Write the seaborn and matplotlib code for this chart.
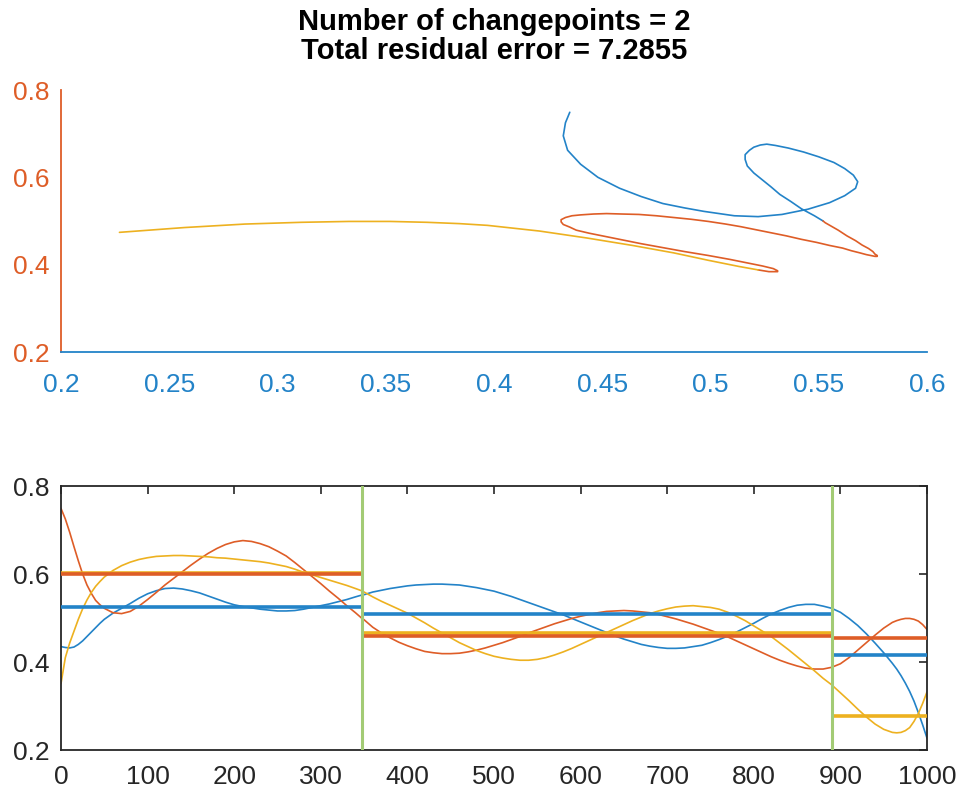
import numpy as np
import pandas as pd
import matplotlib
matplotlib.use("Agg")
import matplotlib.pyplot as plt
import seaborn as sns

# sample index
t = [0, 5, 10, 15, 20, 25, 30, 35, 40, 45,
     50, 60, 70, 80, 90, 100, 110, 120, 130, 140, 150, 160, 170, 180, 190, 200,
     210, 220, 230, 240, 250, 260, 270, 280, 290, 300, 310, 320, 330, 340, 347,
     350, 360, 370, 380, 390, 400, 410, 420, 430, 440, 450, 460, 470, 480, 490,
     500, 510, 520, 530, 540, 550, 560, 570, 580, 590, 600, 610, 620, 630, 640,
     650, 660, 670, 680, 690, 700, 710, 720, 730, 740, 750, 760, 770, 780, 790,
     800, 810, 820, 830, 840, 850, 860, 870, 880, 890, 900, 910, 920, 930, 940,
     950, 960, 965, 970, 975, 980, 985, 990, 995, 1000]

sig_blue = [0.435, 0.433, 0.432, 0.434, 0.440, 0.448, 0.458, 0.468, 0.478, 0.488,
            0.497, 0.511, 0.522, 0.533, 0.545, 0.555, 0.562, 0.567, 0.568, 0.566, 0.562,
            0.557, 0.550, 0.543, 0.536, 0.530, 0.526, 0.523, 0.520, 0.518, 0.516, 0.516,
            0.517, 0.520, 0.524, 0.528, 0.532, 0.537, 0.542, 0.548, 0.552,
            0.553, 0.559, 0.563, 0.567, 0.570, 0.573, 0.575, 0.576, 0.577, 0.577, 0.576,
            0.575, 0.572, 0.569, 0.565, 0.561, 0.555, 0.549, 0.542, 0.535, 0.528, 0.521,
            0.514, 0.507, 0.499, 0.491, 0.483, 0.475, 0.467, 0.459, 0.452, 0.446, 0.440,
            0.436, 0.433, 0.431, 0.431, 0.432, 0.435, 0.438, 0.444, 0.451, 0.459, 0.468,
            0.478, 0.488, 0.499, 0.509, 0.517, 0.524, 0.529, 0.531, 0.531, 0.527, 0.522,
            0.513, 0.499, 0.483, 0.464, 0.443, 0.421, 0.397, 0.384, 0.369, 0.352, 0.333,
            0.311, 0.285, 0.257, 0.227]

sig_orange = [0.749, 0.725, 0.695, 0.662, 0.630, 0.600, 0.575, 0.556, 0.540, 0.530,
              0.522, 0.512, 0.510, 0.515, 0.527, 0.542, 0.558, 0.575, 0.590, 0.605, 0.620,
              0.634, 0.647, 0.658, 0.667, 0.673, 0.676, 0.674, 0.669, 0.662, 0.652, 0.641,
              0.626, 0.610, 0.594, 0.578, 0.561, 0.545, 0.528, 0.512, 0.500,
              0.496, 0.479, 0.466, 0.455, 0.445, 0.437, 0.430, 0.424, 0.421, 0.419, 0.419,
              0.420, 0.423, 0.427, 0.432, 0.438, 0.444, 0.451, 0.458, 0.466, 0.473, 0.480,
              0.487, 0.493, 0.499, 0.504, 0.508, 0.512, 0.515, 0.516, 0.517, 0.516, 0.514,
              0.512, 0.508, 0.503, 0.498, 0.492, 0.486, 0.479, 0.472, 0.465, 0.457, 0.448,
              0.439, 0.430, 0.421, 0.412, 0.404, 0.397, 0.391, 0.386, 0.384, 0.384, 0.388,
              0.396, 0.410, 0.427, 0.444, 0.461, 0.477, 0.490, 0.494, 0.497, 0.499, 0.499,
              0.497, 0.493, 0.485, 0.474]

sig_yellow = [0.351, 0.410, 0.443, 0.470, 0.497, 0.521, 0.541, 0.558, 0.572, 0.583,
              0.593, 0.608, 0.619, 0.627, 0.633, 0.637, 0.640, 0.641, 0.642, 0.642, 0.641,
              0.640, 0.639, 0.637, 0.636, 0.634, 0.632, 0.630, 0.628, 0.625, 0.621, 0.617,
              0.611, 0.604, 0.598, 0.592, 0.586, 0.580, 0.574, 0.567, 0.562,
              0.559, 0.548, 0.538, 0.529, 0.520, 0.511, 0.500, 0.489, 0.477, 0.466, 0.455,
              0.444, 0.435, 0.426, 0.419, 0.413, 0.409, 0.406, 0.404, 0.404, 0.406, 0.410,
              0.416, 0.423, 0.431, 0.440, 0.449, 0.458, 0.467, 0.476, 0.485, 0.494, 0.502,
              0.510, 0.516, 0.521, 0.525, 0.527, 0.528, 0.526, 0.524, 0.520, 0.513, 0.504,
              0.494, 0.482, 0.470, 0.458, 0.443, 0.428, 0.412, 0.396, 0.380, 0.363, 0.348,
              0.330, 0.312, 0.293, 0.275, 0.259, 0.247, 0.240, 0.239, 0.240, 0.244, 0.251,
              0.265, 0.283, 0.306, 0.332]

assert len(t) == len(sig_blue) == len(sig_orange) == len(sig_yellow)

changepoints = [347, 890]
seg_start = [0, 347, 890]
seg_end = [347, 890, 1000]
mean_blue = [0.525, 0.510, 0.415]
mean_orange = [0.600, 0.459, 0.455]
mean_yellow = [0.602, 0.466, 0.278]

top_xticks = [0.2, 0.25, 0.3, 0.35, 0.4, 0.45, 0.5, 0.55, 0.6]
top_xlabels = ["0.2", "0.25", "0.3", "0.35", "0.4", "0.45", "0.5", "0.55", "0.6"]
yticks = [0.2, 0.4, 0.6, 0.8]
ylabels = ["0.2", "0.4", "0.6", "0.8"]
bot_xticks = [0, 100, 200, 300, 400, 500, 600, 700, 800, 900, 1000]

title_lines = ["Number of changepoints = 2", "Total residual error = 7.2855"]

blue = "#2383c8"
orange = "#de5d27"
yellow = "#edb120"
green = "#a3cb75"
dark = "#262626"

sns.set_style("white")
plt.rcParams["font.family"] = ["Liberation Sans", "DejaVu Sans"]
plt.rcParams["xtick.direction"] = "in"
plt.rcParams["ytick.direction"] = "in"

# long-form tables
df = pd.DataFrame({
    "t": t * 3,
    "value": sig_blue + sig_orange + sig_yellow,
    "signal": ["s1"] * len(t) + ["s2"] * len(t) + ["s3"] * len(t),
})

seg = []
for ti in t:
    if ti <= changepoints[0]:
        seg.append(0)
    elif ti <= changepoints[1]:
        seg.append(1)
    else:
        seg.append(2)
xy = pd.DataFrame({"x": sig_blue, "y": sig_orange, "seg": seg, "t": t})
# repeat boundary samples so the segments join up
extra = xy[xy["t"].isin(changepoints)].copy()
extra["seg"] = extra["seg"] + 1
xy = pd.concat([xy, extra]).sort_values(["seg", "t"]).reset_index(drop=True)

fig = plt.figure(figsize=(9.59, 7.95), dpi=100)
ax1 = fig.add_axes([61 / 959, 1 - 352 / 795, 866 / 959, 262 / 795])
ax2 = fig.add_axes([61 / 959, 1 - 750 / 795, 866 / 959, 264 / 795])

# top: trajectory of signal 1 vs signal 2, coloured by segment
sns.lineplot(data=xy, x="x", y="y", hue="seg", palette=[blue, orange, yellow],
             sort=False, estimator=None, legend=False, linewidth=1.2, ax=ax1)
ax1.set_xlim(0.2, 0.6)
ax1.set_ylim(0.2, 0.8)
ax1.set_xticks(top_xticks)
ax1.set_xticklabels(top_xlabels)
ax1.set_yticks(yticks)
ax1.set_yticklabels(ylabels)
ax1.set_xlabel("")
ax1.set_ylabel("")
for s in ["top", "right"]:
    ax1.spines[s].set_visible(False)
ax1.spines["bottom"].set_color(blue)
ax1.spines["left"].set_color(orange)
ax1.spines["bottom"].set_linewidth(1.3)
ax1.spines["left"].set_linewidth(1.3)
ax1.tick_params(axis="x", colors=blue, labelsize=19, length=6, width=1.2, pad=15)
ax1.tick_params(axis="y", colors=orange, labelsize=19, length=6, width=1.2, pad=8)
ax1.set_title("\n".join(title_lines), fontsize=21, fontweight="bold", pad=22,
              linespacing=1.08, color="black")

# bottom: signals, segment means and changepoints
sns.lineplot(data=df, x="t", y="value", hue="signal", palette=[blue, orange, yellow],
             estimator=None, legend=False, linewidth=1.2, ax=ax2)
ax2.hlines(mean_blue, seg_start, seg_end, colors=blue, linewidth=2.6, zorder=3)
ax2.hlines(mean_yellow, seg_start, seg_end, colors=yellow, linewidth=2.6, zorder=3)
ax2.hlines(mean_orange, seg_start, seg_end, colors=orange, linewidth=2.6, zorder=3)
for cp in changepoints:
    ax2.axvline(cp, color=green, linewidth=2.2, zorder=4)
ax2.set_xlim(0, 1000)
ax2.set_ylim(0.2, 0.8)
ax2.set_xticks(bot_xticks)
ax2.set_yticks(yticks)
ax2.set_yticklabels(ylabels)
ax2.set_xlabel("")
ax2.set_ylabel("")
for s in ax2.spines.values():
    s.set_visible(True)
    s.set_color(dark)
    s.set_linewidth(1.3)
ax2.tick_params(colors=dark, labelsize=19, length=6, width=1.2, pad=11,
                top=True, right=True)
ax2.tick_params(axis="y", pad=8)

plt.savefig("out.png", dpi=100)
